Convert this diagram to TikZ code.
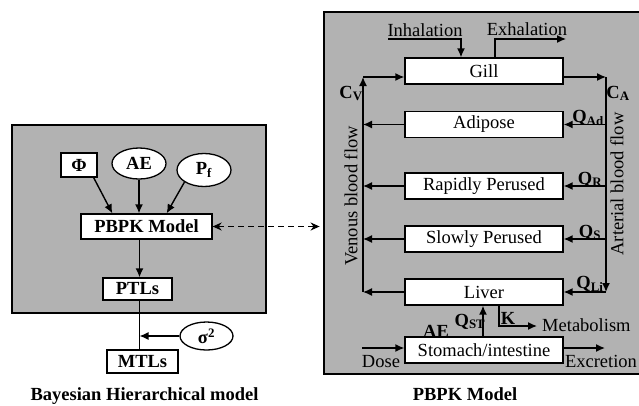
\documentclass[tikz,border=0pt]{standalone}
\usepackage{fontspec}
\setmainfont{Liberation Serif}
\usetikzlibrary{arrows.meta,shapes.geometric}
\definecolor{grayfill}{RGB}{178,178,178}
\begin{document}
\begin{tikzpicture}[x=1pt,y=-1pt,
  arr/.style={-{Latex[length=9pt,width=8pt]}},
  ln/.style={line width=1.4pt},
  frame/.style={draw, fill=grayfill, line width=2.8pt, inner sep=0pt},
  box/.style={draw, fill=white, line width=1.3pt, minimum width=158pt, minimum height=26pt, inner sep=0pt},
  sbox/.style={draw, fill=white, line width=1.3pt, inner sep=0pt, font=\fontsize{18.5}{22}\selectfont\bfseries},
  ell/.style={ellipse, draw, fill=white, line width=1.3pt, inner sep=0pt, font=\fontsize{18.5}{22}\selectfont\bfseries},
  lbl/.style={inner sep=0pt},
  blbl/.style={inner sep=0pt, font=\fontsize{18.5}{22}\selectfont\bfseries},
  font=\fontsize{18.5}{22}\selectfont]

\useasboundingbox (0,0) rectangle (639,405);

% frames
\node[frame, minimum width=254pt, minimum height=188pt] (lframe) at (139,219) {};
\node[frame, minimum width=321pt, minimum height=362pt] (rframe) at (484.5,193) {};

% ---- left: Bayesian hierarchical model
\node[sbox, minimum width=36pt, minimum height=24pt] (phi) at (79,165) {Φ};
\node[ell, minimum width=54pt, minimum height=31pt] (ae) at (139,163.5) {AE};
\node[ell, minimum width=54pt, minimum height=33pt] (pf) at (204,170) {P\textsubscript{f}};
\node[sbox, minimum width=131pt, minimum height=25pt] (pbpk) at (146.5,226.5) {PBPK Model};
\node[sbox, minimum width=69pt, minimum height=22pt] (ptls) at (137.5,289) {PTLs};
\node[sbox, minimum width=71pt, minimum height=23pt] (mtls) at (142.5,361.5) {MTLs};
\node[ell, minimum width=53pt, minimum height=28pt] (sig) at (206.5,336) {σ\textsuperscript{2}};
\coordinate (col) at (139.5,0);

\draw[ln,arr] ([xshift=-4pt]phi.south east) -- ([xshift=32pt]pbpk.north west);
\draw[ln,arr] (ae.south) -- (ae.south |- pbpk.north);
\draw[ln,arr] (pf.south west) -- ([xshift=-46pt]pbpk.north east);
\draw[ln,arr] (pbpk.south -| col) -- (ptls.north -| col);
\draw[ln] (ptls.south -| col) -- (mtls.north -| col);
\draw[ln,arr] (sig.west) -- (sig.west -| col);

\draw[ln, dash pattern=on 6pt off 4pt, {Stealth[length=9pt,width=8pt]}-{Stealth[length=9pt,width=8pt]}]
  (pbpk.east) -- ([xshift=-3pt]rframe.west |- pbpk.east);

% ---- right: PBPK model
\node[box] (gill) at (484,71) {Gill};
\node[box] (adipose) at (484,124.5) {Adipose};
\node[box] (rapid) at (484,186) {Rapidly Perused};
\node[box] (slow) at (484,239) {Slowly Perused};
\node[box] (liver) at (484,292) {Liver};
\node[box] (stomach) at (484,350) {Stomach/intestine};

\coordinate (vtop) at (363,77);
\coordinate (vbot) at (363,292);
\coordinate (atop) at (606,77);
\coordinate (abot) at (606,292);

\draw[ln,arr] (vbot) -- (vtop);
\draw[ln,arr] (vtop) -- (vtop -| gill.west);
\draw[ln,arr] (vtop -| gill.east) -- (atop);
\draw[ln,arr] (atop) -- (abot);
\draw[ln,arr] (abot) -- (liver.east);
\draw[ln,arr] (liver.west) -- (vbot);
\foreach \b in {adipose,rapid,slow}{
  \draw[ln,arr] (\b.east -| atop) -- (\b.east);
  \draw[ln,arr] (\b.west) -- (\b.west -| vtop);
}

% inhalation / exhalation
\node[lbl, anchor=base] (inh) at (425,36) {Inhalation};
\coordinate (inhs) at (388,39);
\coordinate (inhc) at (461,39);
\draw[ln,arr] (inhs) -- (inhc) -- (inhc |- gill.north);
\node[lbl, anchor=base] (exh) at (527,35) {Exhalation};
\coordinate (exc1) at (495,39);
\coordinate (exe) at (566,39);
\draw[ln,arr] (exc1 |- gill.north) -- (exc1) -- (exe);

% dose / excretion
\coordinate (dose) at (362,348);
\coordinate (excr) at (605,348);
\draw[ln,arr] (dose) -- (dose -| stomach.west);
\draw[ln,arr] (stomach.east |- excr) -- (excr);
\node[lbl, anchor=base] (dosel) at (381,367) {Dose};
\node[lbl, anchor=base] (excl) at (601,367) {Excretion};

% stomach -> liver, metabolism
\draw[ln,arr] ([xshift=-1pt]stomach.north) -- ([xshift=-1pt]liver.south);
\coordinate (kc) at (499,326);
\coordinate (ke) at (537,326);
\draw[ln,arr] (kc |- liver.south) -- (kc) -- (ke);
\node[blbl, anchor=base] (kl) at (508,324) {K};
\node[lbl, anchor=base west] (metab) at (542,331) {Metabolism};
\node[blbl, anchor=base] (qst) at (470,326) {Q\textsubscript{ST}};
\node[blbl, anchor=base] (ael) at (436,337) {AE};

% flow labels
\node[blbl, anchor=base] (cv) at (351,98) {C\textsubscript{V}};
\node[blbl, anchor=base] (ca) at (618,98) {C\textsubscript{A}};
\node[blbl, anchor=base] (qad) at (588,122) {Q\textsubscript{Ad}};
\node[blbl, anchor=base] (qr) at (590,184) {Q\textsubscript{R}};
\node[blbl, anchor=base] (qs) at (590,237) {Q\textsubscript{S}};
\node[blbl, anchor=base] (qli) at (590,288) {Q\textsubscript{Li}};
\node[lbl, rotate=90] (ven) at (351,196) {Venous blood flow};
\node[lbl, rotate=90] (art) at (617,184) {Arterial blood flow};

% titles
\node[blbl, anchor=base] (t1) at (144.5,400) {Bayesian Hierarchical model};
\node[blbl, anchor=base] (t2) at (465,400) {PBPK Model};
\end{tikzpicture}
\end{document}
